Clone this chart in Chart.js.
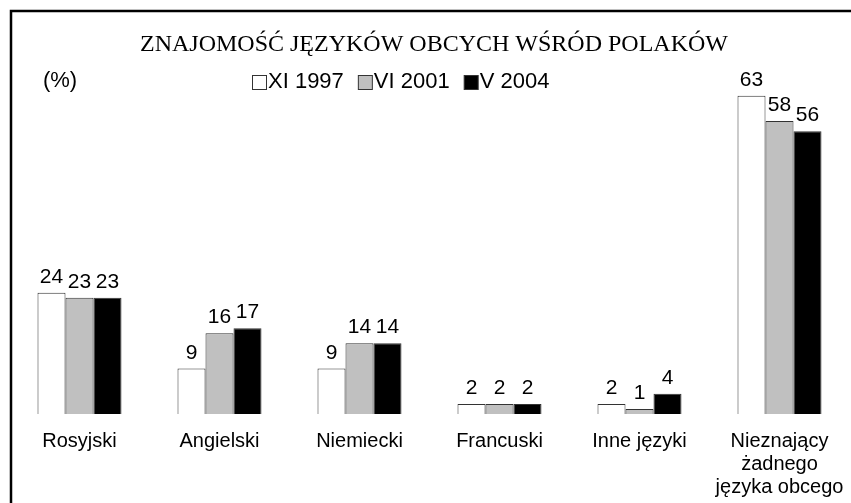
<!DOCTYPE html>
<html>
<head>
<meta charset="utf-8">
<script src="https://cdn.jsdelivr.net/npm/chart.js@4/dist/chart.umd.min.js"></script>
<style>
html,body{margin:0;padding:0;background:#fff;}
#wrap{width:851px;height:503px;position:relative;}
</style>
</head>
<body>
<div id="wrap"><canvas id="c" width="851" height="503"></canvas></div>
<script>
const titleText = 'ZNAJOMOŚĆ JĘZYKÓW OBCYCH WŚRÓD POLAKÓW';
const unitText = '(%)';
const categories = [
  'Rosyjski',
  'Angielski',
  'Niemiecki',
  'Francuski',
  'Inne języki',
  ['Nieznający', 'żadnego', 'języka obcego']
];
const seriesNames = ['XI 1997', 'VI 2001', 'V 2004'];
const values1997 = [24, 9, 9, 2, 2, 63];
const values2001 = [23, 16, 14, 2, 1, 58];
const values2004 = [23, 17, 14, 2, 4, 56];
const seriesColors = ['#ffffff', '#c0c0c0', '#000000'];

const FONT = 'Arial, "Liberation Sans", sans-serif';

const decorPlugin = {
  id: 'decor',
  afterDraw(chart) {
    const ctx = chart.ctx;
    ctx.save();
    // frame
    ctx.strokeStyle = '#000';
    ctx.lineWidth = 2.5;
    ctx.beginPath();
    ctx.moveTo(11, 503);
    ctx.lineTo(11, 11);
    ctx.lineTo(851, 11);
    ctx.stroke();
    // title
    ctx.fillStyle = '#000';
    ctx.font = '24px "Liberation Serif", "Times New Roman", serif';
    ctx.textAlign = 'center';
    ctx.textBaseline = 'alphabetic';
    ctx.fillText(titleText, 434, 51);
    // unit
    ctx.font = '22px ' + FONT;
    ctx.fillText(unitText, 60, 87);
    // legend
    let x = 252;
    const by = 75, bs = 14;
    ctx.textAlign = 'left';
    ctx.font = '22px ' + FONT;
    chart.data.datasets.forEach((ds) => {
      ctx.fillStyle = ds.backgroundColor;
      ctx.fillRect(x + 0.5, by + 0.5, bs, bs);
      ctx.strokeStyle = '#333';
      ctx.lineWidth = 1;
      ctx.strokeRect(x + 0.5, by + 0.5, bs, bs);
      ctx.fillStyle = '#000';
      ctx.fillText(ds.label, x + bs + 2, 88);
      x += bs + 2 + ctx.measureText(ds.label).width + 14;
    });
    // data labels
    ctx.textAlign = 'center';
    ctx.font = '21px ' + FONT;
    chart.data.datasets.forEach((ds, di) => {
      const meta = chart.getDatasetMeta(di);
      meta.data.forEach((bar, i) => {
        ctx.fillText(String(ds.data[i]), bar.x, bar.y - 10);
      });
    });
    ctx.restore();
  }
};

new Chart(document.getElementById('c'), {
  type: 'bar',
  data: {
    labels: categories,
    datasets: seriesNames.map((n, k) => ({
      label: n,
      data: [values1997, values2001, values2004][k],
      backgroundColor: seriesColors[k],
      borderColor: '#333',
      borderWidth: 1,
      categoryPercentage: 0.6,
      barPercentage: 1.0
    }))
  },
  options: {
    responsive: false,
    animation: false,
    events: [],
    layout: { padding: { left: 9.5, right: 1.5, top: 60.5, bottom: 0 } },
    plugins: { legend: { display: false }, title: { display: false }, tooltip: { enabled: false } },
    scales: {
      x: {
        grid: { display: false, drawTicks: false },
        border: { display: false },
        ticks: { color: '#000', font: { family: FONT, size: 20, lineHeight: 1.15 }, padding: 16, maxRotation: 0, autoSkip: false },
        afterFit(scale) {
          scale.height = 89;
          scale.paddingLeft = 0;
          scale.paddingRight = 0;
        }
      },
      y: {
        display: false,
        min: 0,
        max: 70
      }
    }
  },
  plugins: [decorPlugin]
});
</script>
</body>
</html>
